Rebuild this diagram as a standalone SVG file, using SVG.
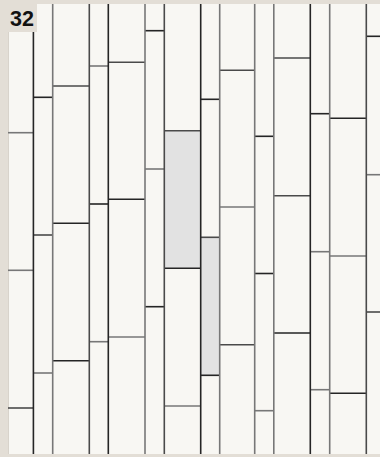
<svg xmlns="http://www.w3.org/2000/svg" width="380" height="457" viewBox="0 0 380 457">
<style>
.d{stroke:#252525;stroke-width:1.6}
.m{stroke:#4a4a4a;stroke-width:1.6}
.g{stroke:#777;stroke-width:1.6}
.hl{fill:#e2e2e2}
</style>
<rect x="0" y="0" width="380" height="457" fill="#e3ded6"/>
<rect x="8" y="4" width="372" height="450" fill="#f8f7f3"/>
<line x1="8.5" y1="4" x2="8.5" y2="454" stroke="#d8d3cb" stroke-width="1"/>
<g id="highlight">
<rect class="hl" x="164.3" y="130.7" width="36.4" height="137.6"/>
<rect class="hl" x="200.7" y="237.3" width="19" height="138"/>
</g>
<g id="ends">
<path class="g" d="M8 132.7H33.4"/><path class="g" d="M8 270.3H33.4"/><path class="m" d="M8 408H33.4"/>
<path class="d" d="M33.4 97.3H52.7"/><path class="m" d="M33.4 235H52.7"/><path class="g" d="M33.4 373H52.7"/>
<path class="m" d="M52.7 86H89.3"/><path class="d" d="M52.7 223.3H89.3"/><path class="d" d="M52.7 360.7H89.3"/>
<path class="g" d="M89.3 66H108.3"/><path class="d" d="M89.3 204H108.3"/><path class="g" d="M89.3 341.7H108.3"/>
<path class="m" d="M108.3 62.3H145"/><path class="d" d="M108.3 199.3H145"/><path class="g" d="M108.3 337H145"/>
<path class="d" d="M145 30.7H164.3"/><path class="g" d="M145 169H164.3"/><path class="d" d="M145 306.7H164.3"/>
<path class="m" d="M164.3 130.7H200.7"/><path class="d" d="M164.3 268.3H200.7"/><path class="g" d="M164.3 406H200.7"/>
<path class="d" d="M200.7 99.3H219.7"/><path class="m" d="M200.7 237.3H219.7"/><path class="d" d="M200.7 375.3H219.7"/>
<path class="m" d="M219.7 70.3H254.7"/><path class="g" d="M219.7 207H254.7"/><path class="m" d="M219.7 344.7H254.7"/>
<path class="d" d="M254.7 136.3H273.8"/><path class="d" d="M254.7 273.5H273.8"/><path class="g" d="M254.7 410.7H273.8"/>
<path class="m" d="M273.8 58H310.3"/><path class="m" d="M273.8 195.7H310.3"/><path class="d" d="M273.8 333H310.3"/>
<path class="d" d="M310.3 113.7H329.7"/><path class="g" d="M310.3 251.7H329.7"/><path class="g" d="M310.3 389.7H329.7"/>
<path class="d" d="M329.7 118.3H366.3"/><path class="g" d="M329.7 256H366.3"/><path class="d" d="M329.7 393.3H366.3"/>
<path class="d" d="M366.3 36.3H380"/><path class="g" d="M366.3 174.7H380"/><path class="m" d="M366.3 312H380"/>
</g>
<g id="sides">
<path class="d" d="M33.4 4V454"/>
<path class="g" d="M52.7 4V454"/>
<path class="m" d="M89.3 4V454"/>
<path class="d" d="M108.3 4V454"/>
<path class="g" d="M145 4V454"/>
<path class="m" d="M164.3 4V454"/>
<path class="d" d="M200.7 4V454"/>
<path class="g" d="M219.7 4V454"/>
<path class="g" d="M254.7 4V454"/>
<path class="g" d="M273.8 4V454"/>
<path class="d" d="M310.3 4V454"/>
<path class="g" d="M329.7 4V454"/>
<path class="m" d="M366.3 4V454"/>
</g>
<g id="label">
<rect x="0" y="0" width="37" height="32" fill="#e3ded6"/>
<text x="10" y="25.7" font-family="'Liberation Sans', Arial, sans-serif" font-weight="bold" font-size="21.5" fill="#111">32</text>
</g>
</svg>
